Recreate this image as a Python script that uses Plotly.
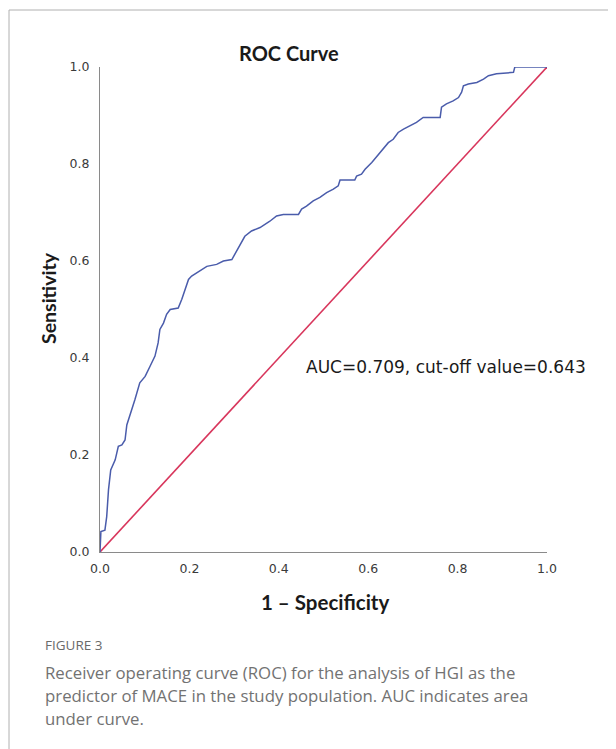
import plotly.graph_objects as go

# ROC curve (1 - specificity, sensitivity)
fpr = [0.0, 0.002, 0.011, 0.015, 0.019, 0.024, 0.034, 0.041, 0.049, 0.056, 0.060,
       0.071, 0.078, 0.089, 0.101, 0.112, 0.123, 0.130, 0.134, 0.142, 0.149, 0.157,
       0.175, 0.183, 0.190, 0.198, 0.205, 0.216, 0.228, 0.239, 0.261, 0.276, 0.295,
       0.302, 0.313, 0.324, 0.339, 0.358, 0.380, 0.395, 0.410, 0.444, 0.451, 0.462,
       0.477, 0.492, 0.507, 0.522, 0.533, 0.537, 0.570, 0.574, 0.585, 0.593, 0.608,
       0.623, 0.634, 0.645, 0.656, 0.667, 0.679, 0.694, 0.708, 0.723, 0.761, 0.764,
       0.775, 0.790, 0.802, 0.809, 0.813, 0.824, 0.843, 0.858, 0.869, 0.887, 0.925,
       0.928, 1.0]
tpr = [0.0, 0.042, 0.045, 0.073, 0.128, 0.169, 0.190, 0.218, 0.221, 0.231, 0.262,
       0.293, 0.314, 0.349, 0.362, 0.383, 0.404, 0.431, 0.459, 0.472, 0.490, 0.500,
       0.503, 0.521, 0.541, 0.562, 0.569, 0.576, 0.583, 0.589, 0.593, 0.600, 0.603,
       0.614, 0.631, 0.651, 0.662, 0.669, 0.682, 0.693, 0.696, 0.696, 0.707, 0.713,
       0.724, 0.731, 0.741, 0.748, 0.755, 0.767, 0.767, 0.775, 0.779, 0.789, 0.803,
       0.820, 0.831, 0.844, 0.851, 0.865, 0.872, 0.879, 0.886, 0.896, 0.896, 0.917,
       0.924, 0.930, 0.937, 0.948, 0.961, 0.965, 0.968, 0.975, 0.982, 0.986, 0.989,
       1.0, 1.0]

# Reference (chance) line
ref_x = [0.0, 1.0]
ref_y = [0.0, 1.0]

tick_vals = [0.0, 0.2, 0.4, 0.6, 0.8, 1.0]
tick_text = ["0.0", "0.2", "0.4", "0.6", "0.8", "1.0"]

title_text = "ROC Curve"
x_title = "1 \u2013 Specificity"
y_title = "Sensitivity"
auc_text = "AUC=0.709, cut-off value=0.643"
fig_label = "FIGURE 3"
caption_lines = [
    "Receiver operating curve (ROC) for the analysis of HGI as the",
    "predictor of MACE in the study population. AUC indicates area",
    "under curve.",
]

# page body margin (html default) shifts the figure by 8px
OFF = 8
W, H = 616 - OFF, 749 - OFF
# plot area in page pixels: x 100..547, y 67..552
L, R, T, B = 100 - OFF, 616 - 547, 67 - OFF, 749 - 552
PW, PH = W - L - R, H - T - B


def px_x(p):
    return (p - OFF - L) / PW


def px_y(p):
    return (H - B - (p - OFF)) / PH


fig = go.Figure()
fig.add_trace(go.Scatter(x=ref_x, y=ref_y, mode="lines",
                         line=dict(color="#d8365c", width=1.6),
                         hoverinfo="skip", showlegend=False))
fig.add_trace(go.Scatter(x=fpr, y=tpr, mode="lines",
                         line=dict(color="#4a5cab", width=1.5),
                         showlegend=False))

axis_common = dict(range=[0, 1], showgrid=False, zeroline=False,
                   showline=True, linecolor="#8a8a8a", linewidth=1,
                   ticks="", tickvals=tick_vals, ticktext=tick_text,
                   tickfont=dict(family="DejaVu Sans", size=12.5, color="#3a3a3a"),
                   fixedrange=True)

fig.update_layout(
    width=W, height=H,
    margin=dict(l=L, r=R, t=T, b=B, pad=0),
    paper_bgcolor="white", plot_bgcolor="white",
    xaxis=dict(**axis_common, ticklabelstandoff=5),
    yaxis=dict(**axis_common, ticklabelstandoff=7),
)

annotations = [
    dict(text="<b>" + title_text + "</b>", x=px_x(289), y=px_y(53),
         font=dict(family="Lato", size=20, color="#1a1a1a")),
    dict(text="<b>" + x_title + "</b>", x=px_x(325), y=px_y(602),
         font=dict(family="Lato", size=20.5, color="#1a1a1a")),
    dict(text="<b>" + y_title + "</b>", x=px_x(48), y=px_y(298), textangle=-90,
         font=dict(family="Lato", size=19.5, color="#1a1a1a")),
    dict(text=auc_text, x=px_x(304), y=px_y(367), xanchor="left",
         font=dict(family="DejaVu Sans", size=17, color="#1a1a1a")),
    dict(text=fig_label, x=px_x(43), y=px_y(645), xanchor="left",
         font=dict(family="Open Sans", size=13.5, color="#6a6a6a")),
]
for i, line in enumerate(caption_lines):
    annotations.append(dict(text=line, x=px_x(43), y=px_y(672 + 23 * i), xanchor="left",
                            font=dict(family="Open Sans", size=16.8, color="#727272")))

for a in annotations:
    a.setdefault("xanchor", "center")
    a.update(xref="paper", yref="paper", yanchor="middle", showarrow=False)
fig.update_layout(annotations=annotations)

# outer frame of the figure panel
fig.add_shape(type="rect", xref="paper", yref="paper",
              x0=px_x(9), x1=px_x(640), y0=px_y(10), y1=px_y(780),
              line=dict(color="#b0b0b0", width=1), fillcolor="rgba(0,0,0,0)",
              layer="below")

fig.write_html("out.html")
